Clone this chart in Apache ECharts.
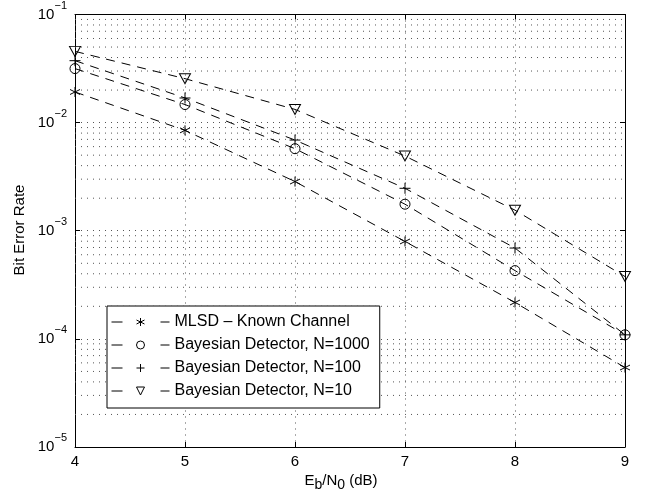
<!DOCTYPE html>
<html><head><meta charset="utf-8">
<script src="https://cdn.jsdelivr.net/npm/echarts@6/dist/echarts.min.js"></script>
<style>html,body{margin:0;padding:0;background:#fff}#c{width:652px;height:498px}</style>
</head><body><div id="c"></div>
<script>
// ---- data ----
const xValues = [4, 5, 6, 7, 8, 9];
const mlsdKnown = [0.0192, 0.00848, 0.00285, 0.000796, 0.000217, 0.0000543];
const bayesN1000 = [0.0316, 0.0147, 0.00574, 0.00176, 0.000428, 0.000109];
const bayesN100 = [0.0374, 0.0169, 0.0069, 0.00247, 0.000692, 0.000109];
const bayesN10 = [0.0456, 0.0255, 0.01325, 0.00491, 0.00155, 0.000377];
const seriesNames = ['MLSD \u2013 Known Channel', 'Bayesian Detector, N=1000', 'Bayesian Detector, N=100', 'Bayesian Detector, N=10'];
const xTickLabels = ['4', '5', '6', '7', '8', '9'];
const yMin = 1e-5, yMax = 1e-1;
const minorMultipliers = [2, 3, 4, 5, 6, 7, 8, 9];
const decadeBases = [1e-5, 1e-4, 1e-3, 1e-2];

const FONT = 'Liberation Sans, Arial, Helvetica, sans-serif';
const minorGridValues = [];
decadeBases.forEach(b => minorMultipliers.forEach(m => minorGridValues.push(b * m)));

const symStar = 'path://M0,-5L0,5M-4.33,-2.5L4.33,2.5M-4.33,2.5L4.33,-2.5';
const symPlus = 'path://M0,-5L0,5M-5,0L5,0';
const symTri = 'path://M-5,-4.33L5,-4.33L0,4.33Z';

function pairs(arr) { return xValues.map((x, i) => [x, arr[i]]); }

const gridDot = { type: [1, 5], color: '#555', width: 1 };

function mkSeries(name, arr, symbol, size) {
  return {
    name: name, type: 'line', data: pairs(arr),
    symbol: symbol, symbolSize: size,
    lineStyle: { color: '#000', width: 1, type: [9, 7] },
    itemStyle: { color: 'none', borderColor: '#000', borderWidth: 1 },
    emphasis: { disabled: true },
    z: 5
  };
}

const series = [
  mkSeries(seriesNames[0], mlsdKnown, symStar, 10),
  mkSeries(seriesNames[1], bayesN1000, 'circle', 10),
  mkSeries(seriesNames[2], bayesN100, symPlus, 11),
  mkSeries(seriesNames[3], bayesN10, symTri, [11, 10])
];
minorGridValues.forEach(v => {
  series.push({
    type: 'line', data: [[xValues[0], v], [xValues[xValues.length - 1], v]],
    symbol: 'none', silent: true, z: 1, lineStyle: gridDot,
    emphasis: { disabled: true }
  });
});

const chart = echarts.init(document.getElementById('c'));
chart.setOption({
  animation: false,
  backgroundColor: '#fff',
  grid: { left: 75, right: 27, top: 13, bottom: 51 },
  xAxis: [{
    type: 'value', min: 4, max: 9, interval: 1,
    axisLine: { lineStyle: { color: '#000', width: 1 } },
    axisTick: { inside: true, length: 5, lineStyle: { color: '#000' } },
    axisLabel: { margin: 7, color: '#000', fontSize: 15, fontFamily: FONT,
      formatter: v => xTickLabels[xValues.indexOf(v)] ?? '' },
    splitLine: { show: true, lineStyle: gridDot }
  }, {
    type: 'value', min: 4, max: 9, interval: 1, position: 'top',
    axisLine: { show: true, lineStyle: { color: '#000', width: 1 } },
    axisTick: { inside: true, length: 5, lineStyle: { color: '#000' } },
    axisLabel: { show: false }, splitLine: { show: false }
  }],
  yAxis: [{
    type: 'log', logBase: 10, min: yMin, max: yMax,
    axisLine: { show: true, lineStyle: { color: '#000', width: 1 } },
    axisTick: { inside: true, length: 5, lineStyle: { color: '#000' } },
    axisLabel: {
      margin: 8, color: '#000', fontFamily: FONT,
      formatter: v => {
        const e = Math.round(Math.log10(v));
        return '{b|10}{s|' + (e < 0 ? '\u2212' : '') + Math.abs(e) + '}';
      },
      rich: {
        b: { fontSize: 15, fontFamily: FONT, color: '#000', padding: [7, 0, 7, 0], verticalAlign: 'bottom' },
        s: { fontSize: 11, fontFamily: FONT, color: '#000', verticalAlign: 'top' }
      }
    },
    splitLine: { show: true, lineStyle: gridDot }
  }, {
    type: 'log', logBase: 10, min: yMin, max: yMax, position: 'right',
    axisLine: { show: true, lineStyle: { color: '#000', width: 1 } },
    axisTick: { inside: true, length: 5, lineStyle: { color: '#000' } },
    axisLabel: { show: false }, splitLine: { show: false }
  }],
  legend: {
    data: seriesNames, orient: 'vertical', left: 107, top: 306,
    backgroundColor: '#fff', borderColor: '#000', borderWidth: 1,
    padding: [8, 10, 9, 4], itemWidth: 58, itemHeight: 10, itemGap: 7,
    lineStyle: { type: [11, 38], width: 1, color: '#000' },
    itemStyle: { color: 'none', borderColor: '#000', borderWidth: 1 },
    textStyle: { fontSize: 16, fontFamily: FONT, color: '#000' },
    selectedMode: false
  },
  graphic: [
    { type: 'text', x: 20, y: 230, rotation: Math.PI / 2,
      style: { text: 'Bit Error Rate', font: '15px ' + FONT, fill: '#000', align: 'center', verticalAlign: 'middle' } },
    { type: 'text', x: 341, y: 481,
      style: { text: 'E{sub|b}/N{sub|0} (dB)', fill: '#000', align: 'center', verticalAlign: 'middle',
        font: '15px ' + FONT,
        rich: { sub: { fontSize: 14, fontFamily: FONT, fill: '#000', padding: [9, 0, 0, 0], verticalAlign: 'bottom' } } } }
  ],
  series: series
});
</script></body></html>
